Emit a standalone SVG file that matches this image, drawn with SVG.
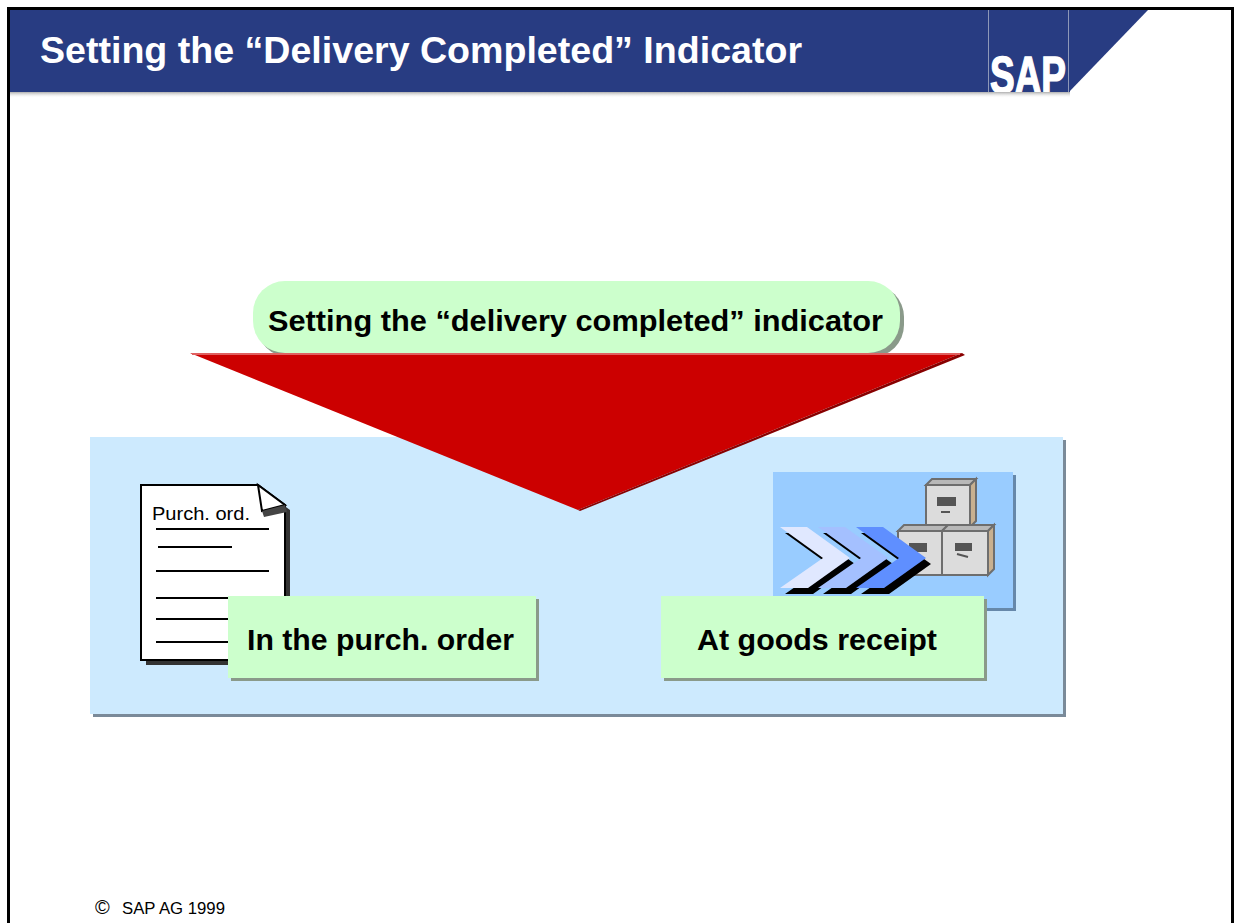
<svg xmlns="http://www.w3.org/2000/svg" width="1235" height="923" viewBox="0 0 1235 923">
  <defs>
    <style>
      .title { font-family: "Liberation Sans", Arial, sans-serif; font-weight: bold; fill: #ffffff; }
      .lbl { font-family: "Liberation Sans", Arial, sans-serif; font-weight: bold; fill: #000000; }
      .small { font-family: "Liberation Sans", Arial, sans-serif; fill: #000000; }
      .green { fill: #ccffcc; }
      .docline { stroke: #000000; stroke-width: 2; }
      .cab { fill: #dcdcdc; stroke: #6e6e6e; stroke-width: 2; }
      .cabside { fill: #c8b090; stroke: #6e6e6e; stroke-width: 2; }
      .cabtop { fill: #b8b8b8; stroke: #6e6e6e; stroke-width: 2; }
      .handle { fill: #555555; }
    </style>
    <linearGradient id="hdrShade" x1="0" y1="0" x2="0" y2="1">
      <stop offset="0" stop-color="#9a9a9a" stop-opacity="0.8"/>
      <stop offset="1" stop-color="#ffffff" stop-opacity="0"/>
    </linearGradient>
    <clipPath id="hdrClip">
      <rect x="988" y="10" width="81" height="82"/>
    </clipPath>
    <polygon id="chev" points="0,0 27,0 70,31 28,61 0,61 43,31"/>
  </defs>

  <rect x="0" y="0" width="1235" height="923" fill="#ffffff"/>

  <!-- page frame -->
  <rect x="8.5" y="8.5" width="1224" height="1000" fill="none" stroke="#000000" stroke-width="3"/>

  <!-- header band -->
  <g id="header">
    <rect x="10" y="92" width="1060" height="6" fill="url(#hdrShade)"/>
    <rect x="10" y="10" width="1060" height="82" fill="#283c82"/>
    <polygon points="1069,10 1148,10 1069,92" fill="#283c82"/>
    <line x1="988.5" y1="10" x2="988.5" y2="92" stroke="#8e98b8" stroke-width="1"/>
    <line x1="1068.5" y1="10" x2="1068.5" y2="92" stroke="#8e98b8" stroke-width="1"/>
    <text class="title" x="40" y="63" font-size="36" textLength="762" lengthAdjust="spacingAndGlyphs">Setting the “Delivery Completed” Indicator</text>
    <g clip-path="url(#hdrClip)">
      <text x="990" y="93" font-family="'Liberation Sans', Arial, sans-serif" font-weight="bold" font-size="52" fill="#ffffff" stroke="#ffffff" stroke-width="1.5" textLength="76" lengthAdjust="spacingAndGlyphs">SAP</text>
    </g>
  </g>

  <!-- top label pill -->
  <g id="setting-indicator">
    <rect x="257" y="285" width="647" height="72" rx="32" ry="32" fill="#8a9a8a"/>
    <rect x="253" y="281" width="647" height="72" rx="32" ry="32" class="green"/>
    <text class="lbl" x="268" y="331" font-size="29" textLength="615" lengthAdjust="spacingAndGlyphs">Setting the “delivery completed” indicator</text>
  </g>

  <!-- light blue panel -->
  <g id="panel">
    <rect x="93" y="440" width="973" height="277" fill="#7a8a99"/>
    <rect x="90" y="437" width="973" height="277" fill="#cdeafe"/>
  </g>

  <!-- red funnel -->
  <g id="funnel">
    <polygon points="190,353 962,353 578,510" fill="#cc0000"/>
    <polygon points="962,353 965,355 580,511 578,510" fill="#880000"/>
    <line x1="192" y1="354" x2="960" y2="354" stroke="#e06060" stroke-width="2"/>
  </g>

  <!-- purchase order document -->
  <g id="purchase-order-doc">
    <path d="M146,490 H263 L290,510 V665 H146 Z" fill="#333333"/>
    <path d="M141,485 H258 L285,505 V660 H141 Z" fill="#ffffff" stroke="#000000" stroke-width="2"/>
    <path d="M258,485 L262,511 L285,505 Z" fill="#ffffff" stroke="#000000" stroke-width="2"/>
    <path d="M262,511 L285,505 L287,512 L264,517 Z" fill="#444444"/>
    <text class="small" x="152" y="520" font-size="18" textLength="98" lengthAdjust="spacingAndGlyphs">Purch. ord.</text>
    <line class="docline" x1="156" y1="529" x2="269" y2="529"/>
    <line class="docline" x1="158" y1="547" x2="232" y2="547"/>
    <line class="docline" x1="156" y1="571" x2="269" y2="571"/>
    <line class="docline" x1="156" y1="598" x2="269" y2="598"/>
    <line class="docline" x1="156" y1="619" x2="269" y2="619"/>
    <line class="docline" x1="156" y1="642" x2="269" y2="642"/>
  </g>

  <!-- goods receipt picture -->
  <g id="goods-receipt-pic">
    <rect x="776" y="475" width="240" height="136" fill="#6688aa"/>
    <rect x="773" y="472" width="240" height="136" fill="#99ccff"/>
    <!-- upper cabinet -->
    <polygon class="cabtop" points="926,485 932,479 976,479 970,485"/>
    <polygon class="cabside" points="970,485 976,479 976,521 970,527"/>
    <rect class="cab" x="926" y="485" width="44" height="42"/>
    <rect class="handle" x="937" y="497" width="19" height="9"/>
    <line x1="941" y1="512" x2="950" y2="512" stroke="#555555" stroke-width="2"/>
    <!-- lower left cabinet -->
    <polygon class="cabtop" points="898,531 904,525 948,525 942,531"/>
    <rect class="cab" x="898" y="531" width="44" height="44"/>
    <rect class="handle" x="909" y="543" width="18" height="9"/>
    <!-- lower right cabinet -->
    <polygon class="cabtop" points="942,531 948,525 994,525 988,531"/>
    <polygon class="cabside" points="988,531 994,525 994,569 988,575"/>
    <rect class="cab" x="942" y="531" width="46" height="44"/>
    <rect class="handle" x="955" y="543" width="17" height="8"/>
    <line x1="957" y1="554" x2="968" y2="557" stroke="#555555" stroke-width="2"/>
    <!-- arrows -->
    <use href="#chev" x="785" y="533" fill="#000000"/>
    <use href="#chev" x="780" y="527" fill="#e0e8ff"/>
    <use href="#chev" x="823" y="533" fill="#000000"/>
    <use href="#chev" x="818" y="527" fill="#a4c0ff"/>
    <use href="#chev" x="861" y="533" fill="#000000"/>
    <use href="#chev" x="856" y="527" fill="#5f8fff"/>
  </g>

  <!-- lower labels -->
  <g id="in-purch-order">
    <rect x="231" y="599" width="308" height="82" fill="#8a9a8a"/>
    <rect x="228" y="596" width="308" height="82" class="green"/>
    <text class="lbl" x="247" y="650" font-size="29" textLength="267" lengthAdjust="spacingAndGlyphs">In the purch. order</text>
  </g>
  <g id="at-goods-receipt">
    <rect x="664" y="599" width="323" height="82" fill="#8a9a8a"/>
    <rect x="661" y="596" width="323" height="82" class="green"/>
    <text class="lbl" x="697" y="650" font-size="29" textLength="240" lengthAdjust="spacingAndGlyphs">At goods receipt</text>
  </g>

  <g id="connectors"/>

  <!-- footer -->
  <text class="small" x="95" y="914" font-size="20">©</text>
  <text class="small" x="122" y="914" font-size="16" textLength="103" lengthAdjust="spacingAndGlyphs">SAP AG 1999</text>
</svg>
